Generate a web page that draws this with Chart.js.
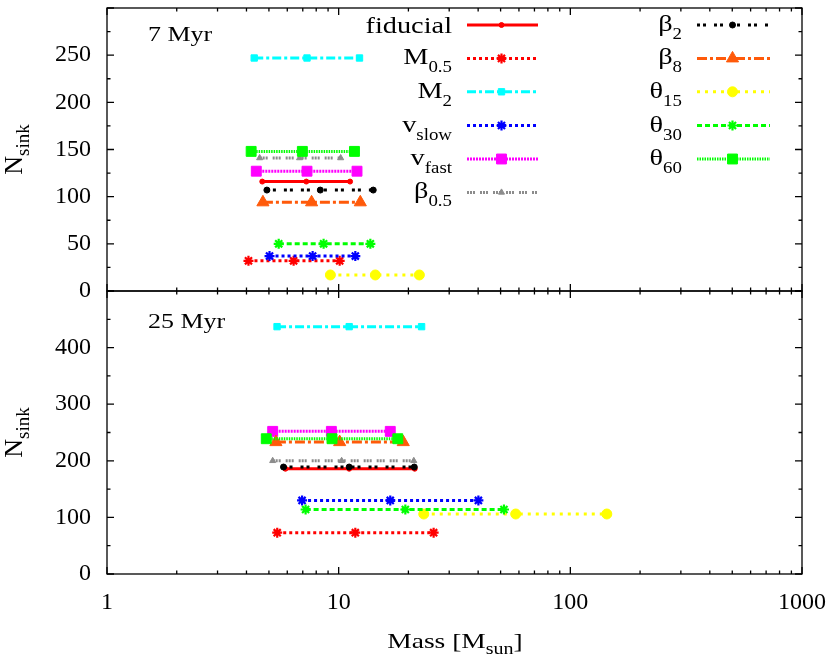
<!DOCTYPE html>
<html>
<head>
<meta charset="utf-8">
<script src="https://cdn.jsdelivr.net/npm/chart.js@4.4.1/dist/chart.umd.min.js"></script>
<style>
  html, body { margin: 0; padding: 0; background: #fff; }
  canvas { display: block; }
  #fontWarm { font-family: "Liberation Serif"; position: absolute; left: -1000px; top: 0; }
</style>
</head>
<body>
<canvas id="sinkChart" width="830" height="658"></canvas>
<div id="fontWarm">0123456789 Mass fiducial βθ</div>
<script>
// runs, in legend order
const runs = ['fiducial', 'M0.5', 'M2', 'vslow', 'vfast', 'β0.5', 'β2', 'β8', 'θ15', 'θ30', 'θ60'];

// 7 Myr: number of sinks, and the three masses marked along each line
const nsink7    = [116, 32, 247, 37, 127, 141, 107, 94, 17, 50, 148];
const mass7Lo   = [4.68, 4.08, 4.32, 5.03, 4.41, 4.56, 4.90, 4.71, 9.21, 5.51, 4.19];
const mass7Mid  = [7.25, 6.39, 7.30, 7.72, 7.30, 6.78, 8.33, 7.64, 14.4, 8.61, 6.97];
const mass7Hi   = [11.2, 10.1, 12.3, 11.8, 12.0, 10.2, 14.1, 12.4, 22.3, 13.7, 11.7];

// 25 Myr
const nsink25   = [186, 73, 437, 130, 252, 200, 189, 233, 106, 114, 239];
const mass25Lo  = [5.89, 5.43, 5.42, 6.95, 5.19, 5.19, 5.78, 5.36, 23.3, 7.20, 4.87];
const mass25Mid = [11.1, 11.8, 11.1, 16.7, 9.30, 10.3, 11.1, 10.1, 58.1, 19.4, 9.36];
const mass25Hi  = [21.3, 25.7, 22.8, 40.1, 16.7, 21.1, 21.2, 19.0, 143.7, 51.7, 18.0];

// tick labels
const xTickLabels = [1, 10, 100, 1000];
const yTicks7 = [0, 50, 100, 150, 200, 250];
const yTicks25 = [0, 100, 200, 300, 400];

// line / marker look per run
const styles = [
  { color: '#ff0000', dash: [],                 point: 'circle',   r: 2.5, bw: 1 },
  { color: '#ff0000', dash: [3, 3],             point: 'star',     r: 5,   bw: 2.2 },
  { color: '#00ffff', dash: [9, 3, 3, 3],       point: 'rect',     r: 4.5, bw: 1 },
  { color: '#0000ff', dash: [3, 3],             point: 'star',     r: 5,   bw: 2.2 },
  { color: '#ff00ff', dash: [2, 1],             point: 'rect',     r: 7,   bw: 1 },
  { color: '#8c8c8c', dash: [2, 1, 2, 1, 2, 5], point: 'triangle', r: 3.5, bw: 1 },
  { color: '#000000', dash: [3, 3, 3, 8],       point: 'circle',   r: 3,   bw: 1 },
  { color: '#ff5a0a', dash: [10, 3, 3, 3],      point: 'triangle', r: 7,   bw: 1 },
  { color: '#ffff00', dash: [3, 5],             point: 'circle',   r: 5,   bw: 1 },
  { color: '#00ff00', dash: [5, 3],             point: 'star',     r: 5,   bw: 2.2 },
  { color: '#00ff00', dash: [1.5, 1],           point: 'rect',     r: 7,   bw: 1 }
];

const serif = '"Liberation Serif", "Times New Roman", Times, serif';

function makeSet(i, axis, n, lo, mid, hi) {
  const s = styles[i];
  return {
    label: runs[i],
    yAxisID: axis,
    data: [{ x: lo[i], y: n[i] }, { x: mid[i], y: n[i] }, { x: hi[i], y: n[i] }],
    borderColor: s.color,
    borderDash: s.dash,
    borderWidth: 3,
    backgroundColor: s.color,
    pointStyle: s.point,
    pointRadius: s.r,
    pointBorderWidth: s.bw,
    pointBackgroundColor: s.color,
    pointBorderColor: s.color,
    fill: false,
    tension: 0,
    order: runs.length - i
  };
}

const datasets = [];
runs.forEach((_, i) => datasets.push(makeSet(i, 'yTop', nsink7, mass7Lo, mass7Mid, mass7Hi)));
runs.forEach((_, i) => datasets.push(makeSet(i, 'yBot', nsink25, mass25Lo, mass25Mid, mass25Hi)));

// text with subscripts; parts = [[text, isSub], ...], y = main baseline
function drawParts(ctx, parts, x, y, o) {
  let total = 0;
  const widths = parts.map(([t, sub]) => {
    ctx.font = (sub ? o.subSize : o.size) + 'px ' + serif;
    const w = ctx.measureText(t).width * o.stretch;
    total += w;
    return w;
  });
  let cx = o.align === 'right' ? x - total : o.align === 'center' ? x - total / 2 : x;
  parts.forEach(([t, sub], k) => {
    ctx.font = (sub ? o.subSize : o.size) + 'px ' + serif;
    ctx.save();
    ctx.translate(cx, y + (sub ? o.drop : 0));
    ctx.scale(o.stretch, 1);
    ctx.textAlign = 'left';
    ctx.textBaseline = 'alphabetic';
    ctx.fillText(t, 0, 0);
    ctx.restore();
    cx += widths[k];
  });
}

const decorPlugin = {
  id: 'decor',
  afterDraw(chart) {
    const ctx = chart.ctx;
    const xs = chart.scales.x;
    const panels = [
      { ys: chart.scales.yTop, minor: 25, major: 50, label: '7 Myr', base: 33 },
      { ys: chart.scales.yBot, minor: 50, major: 100, label: '25 Myr', base: 37 }
    ];
    ctx.save();
    ctx.fillStyle = '#000';
    ctx.strokeStyle = '#000';
    ctx.setLineDash([]);
    ctx.lineWidth = 1.3;
    panels.forEach(p => {
      const ys = p.ys, top = ys.top, bot = ys.bottom, left = xs.left, right = xs.right;
      ctx.strokeRect(left, top, right - left, bot - top);
      ctx.beginPath();
      for (let d = 1; d <= 1000; d *= 10) {
        for (let k = 1; k <= 9; k++) {
          const v = k * d;
          if (v > 1000) break;
          const px = xs.getPixelForValue(v);
          const len = k === 1 ? 7 : 3.5;
          ctx.moveTo(px, bot); ctx.lineTo(px, bot - len);
          ctx.moveTo(px, top); ctx.lineTo(px, top + len);
        }
      }
      for (let v = 0; v <= ys.max; v += p.minor) {
        const py = ys.getPixelForValue(v);
        const len = v % p.major === 0 ? 7 : 3.5;
        ctx.moveTo(left, py); ctx.lineTo(left + len, py);
        ctx.moveTo(right, py); ctx.lineTo(right - len, py);
      }
      ctx.stroke();
      drawParts(ctx, [[p.label, false]], left + 41, top + p.base,
        { size: 20, subSize: 14, drop: 7, stretch: 1.3, align: 'left' });

      // y title
      ctx.save();
      ctx.translate(22, (top + bot) / 2);
      ctx.rotate(-Math.PI / 2);
      drawParts(ctx, [['N', false], ['sink', true]], 0, 0,
        { size: 26, subSize: 19, drop: 7, stretch: 1, align: 'center' });
      ctx.restore();
    });

    // x title
    drawParts(ctx, [['Mass [M', false], ['sun', true], [']', false]], 455, 648,
      { size: 22, subSize: 16, drop: 6, stretch: 1.25, align: 'center' });

    // legend, two columns
    const rowY = [25, 58.4, 91.8, 125.5, 159, 192.4];
    const cols = [
      { idx: [0, 1, 2, 3, 4, 5], textRight: 452, x0: 467, x1: 538 },
      { idx: [6, 7, 8, 9, 10], textRight: 682, x0: 697, x1: 770 }
    ];
    cols.forEach(c => {
      c.idx.forEach((i, row) => {
        const y = rowY[row];
        const s = styles[i];
        const name = runs[i];
        const parts = name === 'fiducial' ? [[name, false]] : [[name[0], false], [name.slice(1), true]];
        ctx.fillStyle = '#000';
        drawParts(ctx, parts, c.textRight, y + (name === 'fiducial' ? 8 : 6),
          { size: 24, subSize: 16, drop: 8, stretch: 1.18, align: 'right' });
        ctx.save();
        ctx.strokeStyle = s.color;
        ctx.lineWidth = 3;
        ctx.setLineDash(s.dash);
        ctx.beginPath();
        ctx.moveTo(c.x0, y); ctx.lineTo(c.x1, y);
        ctx.stroke();
        ctx.setLineDash([]);
        ctx.fillStyle = s.color;
        ctx.lineWidth = s.bw;
        Chart.helpers.drawPoint(ctx, { pointStyle: s.point, radius: s.r, borderWidth: s.bw, rotation: 0 },
          (c.x0 + c.x1) / 2 - 1, y);
        ctx.restore();
      });
    });
    ctx.restore();
  }
};

function noPad(s) {
  s.paddingTop = 0;
  s.paddingBottom = 0;
  s.paddingLeft = 0;
  s.paddingRight = 0;
}

function buildChart() {
  Chart.defaults.font.family = serif;
  Chart.defaults.color = '#000';
  const tickFont = { family: serif, size: 24 };

  new Chart(document.getElementById('sinkChart').getContext('2d'), {
    type: 'line',
    data: { datasets },
    options: {
      responsive: false,
      animation: false,
      layout: { padding: { left: 0, right: 28, top: 2, bottom: 0 } },
      plugins: { legend: { display: false }, tooltip: { enabled: false } },
      scales: {
        x: {
          type: 'logarithmic',
          position: 'bottom',
          min: 1,
          max: 1000,
          grid: { display: false, drawTicks: false },
          border: { display: false },
          ticks: {
            autoSkip: false, maxRotation: 0, minRotation: 0, padding: 14, font: tickFont, color: '#000',
            callback: v => xTickLabels.includes(v) ? String(v) : ''
          },
          afterFit: s => { s.height = 84; noPad(s); }
        },
        yBot: {
          type: 'linear',
          position: 'left',
          stack: 'panels',
          stackWeight: 1,
          weight: 0,
          min: 0,
          max: 500,
          grid: { display: false, drawTicks: false },
          border: { display: false },
          ticks: {
            stepSize: 100, autoSkip: false, padding: 16, font: tickFont, color: '#000',
            callback: v => yTicks25.includes(v) ? String(v) : ''
          },
          afterFit: s => { s.width = 107; noPad(s); }
        },
        yTop: {
          type: 'linear',
          position: 'left',
          stack: 'panels',
          stackWeight: 1,
          weight: 1,
          min: 0,
          max: 300,
          grid: { display: false, drawTicks: false },
          border: { display: false },
          ticks: {
            stepSize: 50, autoSkip: false, padding: 16, font: tickFont, color: '#000',
            callback: v => yTicks7.includes(v) ? String(v) : ''
          },
          afterFit: s => { s.width = 107; noPad(s); }
        }
      }
    },
    plugins: [decorPlugin]
  });
}

if (document.fonts && document.fonts.load) {
  Promise.all([
    document.fonts.load('22px "Liberation Serif"'),
    document.fonts.load('16px "Liberation Serif"')
  ]).then(buildChart, buildChart);
} else {
  buildChart();
}
</script>
</body>
</html>
